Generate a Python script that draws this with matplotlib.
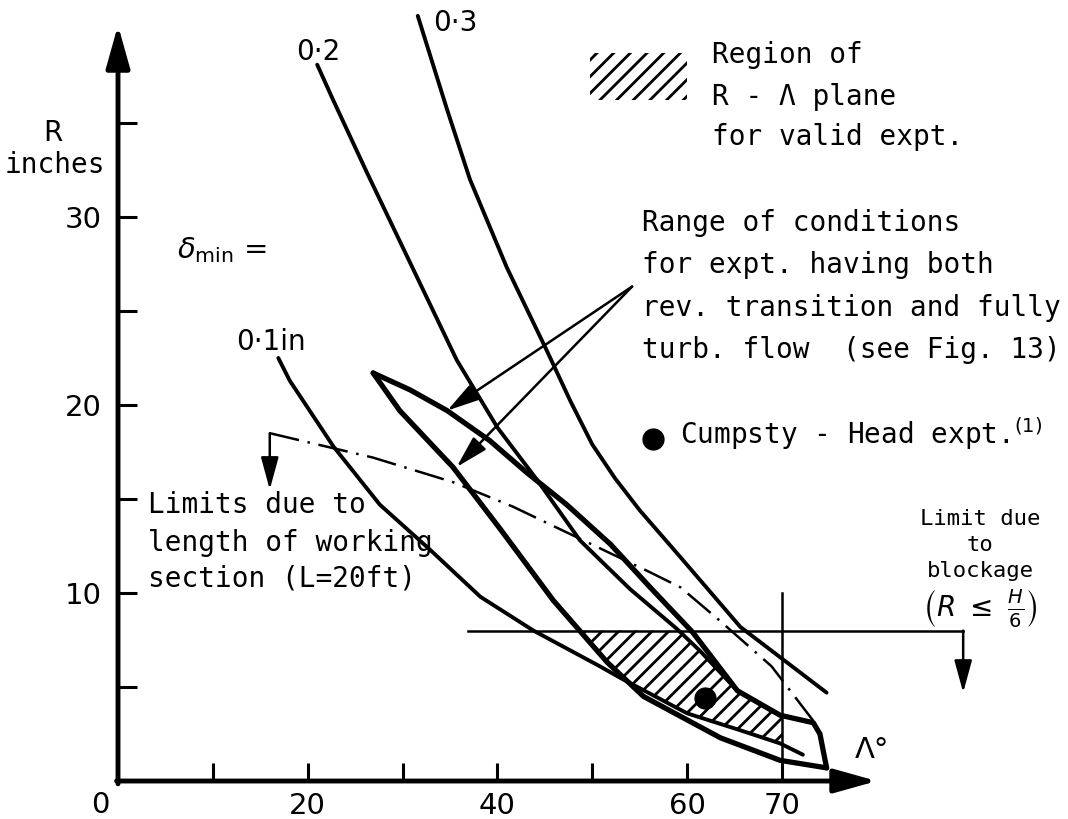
import matplotlib.pyplot as plt
from matplotlib.patches import Polygon, Rectangle

# delta_min curves (Lambda deg, R inches)
lam_01 = [16.9, 18.1, 22.7, 27.6, 32.9, 38.2, 43.8, 50.8, 52.9, 60.0, 65.6, 69.8, 72.2]
r_01 = [22.5, 21.3, 17.8, 14.7, 12.3, 9.8, 8.0, 6.1, 5.5, 3.6, 2.7, 2.0, 1.4]

lam_02 = [21.0, 22.7, 26.3, 35.7, 40.0, 44.2, 48.7, 54.0, 58.9, 61.4, 65.3, 69.8, 73.3]
r_02 = [38.1, 36.2, 32.3, 22.4, 18.8, 16.0, 12.8, 10.2, 8.1, 6.9, 4.8, 3.5, 3.1]

lam_03 = [31.6, 34.7, 37.1, 41.0, 45.2, 47.7, 50.0, 52.4, 55.0, 59.3, 65.6, 74.7]
r_03 = [40.7, 35.7, 32.0, 27.3, 22.9, 20.2, 17.9, 16.1, 14.4, 11.9, 8.2, 4.7]

# range of conditions (lens shaped region)
lens_up_lam = [26.9, 30.8, 34.7, 39.2, 43.1, 47.3, 51.9, 56.1, 60.6, 65.3, 69.8, 73.3, 74.0, 74.7]
lens_up_r = [21.7, 20.8, 19.7, 18.1, 16.4, 14.7, 12.6, 10.3, 7.9, 4.8, 3.5, 3.1, 2.5, 0.7]
lens_lo_lam = [26.9, 29.7, 35.3, 40.3, 45.9, 51.6, 55.4, 63.5, 69.8, 74.7]
lens_lo_r = [21.7, 19.7, 16.7, 13.4, 9.6, 6.3, 4.5, 2.3, 1.1, 0.7]

# valid region (hatched)
hatch_lam = [48.7, 58.9, 61.4, 65.3, 70.0, 70.0, 65.6, 60.0, 52.9, 51.6]
hatch_r = [8.0, 8.0, 6.9, 4.8, 3.4, 2.0, 2.7, 3.6, 5.5, 6.3]

# working section length limit (chain line)
lam_len = [16.0, 26.9, 35.3, 41.6, 56.1, 59.3, 63.5, 68.9, 73.3]
r_len = [18.5, 17.2, 15.9, 14.6, 11.1, 10.3, 8.5, 6.1, 3.2]

r_block = 8.0          # blockage limit R <= H/6
lam_block = [36.9, 89.1]
lam_max = 70.0
cumpsty = (61.9, 4.4)

W, H = 1068, 819
plt.rcParams['font.family'] = 'DejaVu Sans'
plt.rcParams['hatch.linewidth'] = 2.0
plt.rcParams['mathtext.fontset'] = 'dejavusans'

fig = plt.figure(figsize=(W / 100, H / 100), dpi=100)
ax = fig.add_axes([0, 0, 1, 1])
ax.set_xlim(-12.44, 100.15)
ax.set_ylim(-2.02, 41.54)

for s in ax.spines.values():
    s.set_visible(False)
ax.spines['left'].set_position(('data', 0))
ax.spines['bottom'].set_position(('data', 0))

ax.set_xticks([20, 40, 60, 70])
ax.set_xticks([10, 30, 50], minor=True)
ax.set_yticks([10, 20, 30])
ax.set_yticks([5, 15, 25, 35], minor=True)
ax.tick_params(axis='x', which='both', direction='in', length=13, width=2.2, pad=8, labelsize=21)
ax.tick_params(axis='y', which='both', direction='in', length=14, width=2.2, pad=12, labelsize=21)

# axes with arrow heads
ax_arrow = dict(arrowstyle='-|>,head_length=1.0,head_width=0.28', lw=3.5, color='k',
                mutation_scale=26, shrinkA=0, shrinkB=0)
ax.annotate('', xy=(0, 40.2), xytext=(0, -0.15), arrowprops=ax_arrow)
ax.annotate('', xy=(80.0, 0), xytext=(-0.15, 0), arrowprops=ax_arrow)

# curves
line_kw = dict(color='k', solid_capstyle='round', solid_joinstyle='round')
ax.plot(lam_01, r_01, lw=2.8, **line_kw)
ax.plot(lam_02, r_02, lw=2.8, **line_kw)
ax.plot(lam_03, r_03, lw=2.8, **line_kw)
ax.plot(lens_up_lam, lens_up_r, lw=3.8, **line_kw)
ax.plot(lens_lo_lam, lens_lo_r, lw=3.8, **line_kw)

ax.add_patch(Polygon(list(zip(hatch_lam, hatch_r)), closed=True, fill=False,
                     hatch='//', lw=0, edgecolor='k'))

# limits
ax.plot(lam_len, r_len, color='k', lw=1.8, linestyle=(0, (12, 3.5, 1, 3.5)))
small_arrow = dict(arrowstyle='-|>,head_length=1.1,head_width=0.3', lw=1.8, color='k',
                   mutation_scale=18, shrinkA=0, shrinkB=0)
ax.annotate('', xy=(lam_len[0], 15.5), xytext=(lam_len[0], r_len[0]), arrowprops=small_arrow)
ax.plot(lam_block, [r_block, r_block], color='k', lw=1.8)
ax.annotate('', xy=(lam_block[1], 4.7), xytext=(lam_block[1], r_block), arrowprops=small_arrow)
ax.plot([lam_max, lam_max], [0, 10.0], color='k', lw=1.8)

# pointers to the range of conditions
ax.annotate('', xy=(34.7, 19.7), xytext=(54.2, 26.3), arrowprops=small_arrow)
ax.annotate('', xy=(35.7, 16.7), xytext=(54.2, 26.3), arrowprops=small_arrow)

ax.plot(*cumpsty, 'ko', ms=15)
ax.plot(56.4, 18.2, 'ko', ms=15)
ax.add_patch(Rectangle((49.8, 36.2), 10.2, 2.5, fill=False, hatch='//', lw=0, edgecolor='k'))


def put(x, y, s, **kw):
    kw.setdefault('fontsize', 20)
    kw.setdefault('va', 'center')
    fig.text(x / W, 1 - y / H, s, **kw)


def block(x, ys, lines, **kw):
    kw.setdefault('family', 'DejaVu Sans Mono')
    for y, s in zip(ys, lines):
        put(x, y, s, **kw)


put(53, 133, 'R', ha='center')
put(55, 165, 'inches', ha='center', family='DejaVu Sans Mono')
put(100, 805, '0', ha='center', fontsize=21)
put(318, 52, '0·2', ha='center')
put(455, 23, '0·3', ha='center')
put(271, 342, '0·1in', ha='center')
put(177, 250, r'$\delta_{\rm min}$ =', ha='left', fontsize=21)

block(712, [55, 97, 137], ['Region of', 'R - Λ plane', 'for valid expt.'], ha='left')
block(642, [223, 265, 308, 350],
      ['Range of conditions', 'for expt. having both', 'rev. transition and fully',
       'turb. flow  (see Fig. 13)'], ha='left')
put(680, 434, r'Cumpsty - Head expt.$^{(1)}$', ha='left', family='DejaVu Sans Mono')
block(148, [505, 543, 578], ['Limits due to', 'length of working', 'section (L=20ft)'], ha='left')
block(980, [519, 545, 571], ['Limit due', 'to', 'blockage'], ha='center', fontsize=16)
put(980, 609, r'$\left(R\ \leq\ \frac{H}{6}\right)$', ha='center', fontsize=20)
put(872, 750, 'Λ°', ha='center', fontsize=21)

fig.savefig('out.png', dpi=100)
